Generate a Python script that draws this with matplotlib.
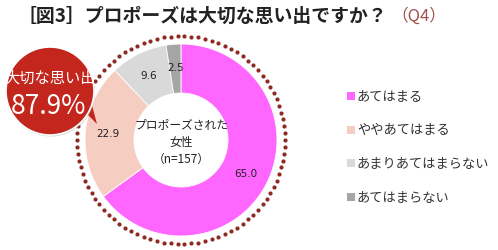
import numpy as np
import matplotlib.pyplot as plt
from matplotlib.patches import Circle, Polygon

plt.rcParams['font.family'] = ['Noto Sans CJK JP', 'DejaVu Sans']

categories = ['あてはまる', 'ややあてはまる', 'あまりあてはまらない', 'あてはまらない']
values = [65.0, 22.9, 9.6, 2.5]
colors = ['#FF66FF', '#F6CDC1', '#D9D9D9', '#A6A6A6']
title = '［図3］プロポーズは大切な思い出ですか？'
subtitle = '（Q4）'
center_text = 'プロポーズされた\n女性\n（n=157）'
bubble_label = '大切な思い出'
bubble_value = values[0] + values[1]

W, H = 498, 251
fig = plt.figure(figsize=(W / 100, H / 100), dpi=100)
ax = fig.add_axes([0, 0, 1, 1])

cx, cy = 181, H - 141
r_out, r_in = 96, 47


def py(y):
    return H - y


# dotted ring
th = np.linspace(0, 2 * np.pi, 94, endpoint=False)
ax.scatter(cx + 104 * np.cos(th), cy + 104 * np.sin(th), s=9, color='#8E2A22',
           linewidths=0, zorder=1)

wedges, _, autotexts = ax.pie(values, colors=colors, startangle=90, counterclock=False,
                              center=(cx, cy), radius=r_out, frame=True,
                              autopct='%.1f', pctdistance=73 / r_out,
                              wedgeprops=dict(width=r_out - r_in, edgecolor='white',
                                              linewidth=0.6))
for w in wedges:
    w.set_zorder(2)
for t in autotexts:
    t.set_fontsize(7.5)
    t.set_color('#222222')
    t.set_family(['DejaVu Sans'])
    t.set_zorder(3)
ax.set_xlim(0, W)
ax.set_ylim(0, H)
ax.axis('off')

ax.text(cx, py(142), center_text, ha='center', va='center', fontsize=8.5,
        color='#222222', linespacing=1.45, zorder=3)

# bubble
bx, by, br = 50, py(92), 44
ax.add_patch(Polygon([(82, py(110)), (97, py(125)), (89, py(95))],
                     closed=True, facecolor='#C2261C', edgecolor='none', zorder=4))
ax.add_patch(Circle((bx + 1, by - 1.5), br, facecolor='#B0B0B0', alpha=0.5,
                    edgecolor='none', zorder=4))
ax.add_patch(Circle((bx, by), br, facecolor='#C2261C', edgecolor='white',
                    linewidth=1.2, zorder=4))
ax.text(bx, py(78), bubble_label, ha='center', va='center', fontsize=11,
        color='white', zorder=5)
ax.text(bx - 2, py(106), f'{bubble_value:.1f}%', ha='center', va='center',
        fontsize=19, color='white', zorder=5)

# legend
for i, (cat, col) in enumerate(zip(categories, colors)):
    yy = py(97 + i * 33.7)
    ax.scatter([351], [yy], marker='s', s=30, color=col, linewidths=0)
    ax.text(357, yy, cat, ha='left', va='center', fontsize=9.5, color='#333333')

fig.text(17 / W, 1 - 16 / H, title, ha='left', va='center', fontsize=13.6,
         fontweight='bold', color='#222222')
fig.text(391 / W, 1 - 16 / H, subtitle, ha='left', va='center', fontsize=12,
         color='#A0524A')

fig.savefig('out.png', dpi=100)
